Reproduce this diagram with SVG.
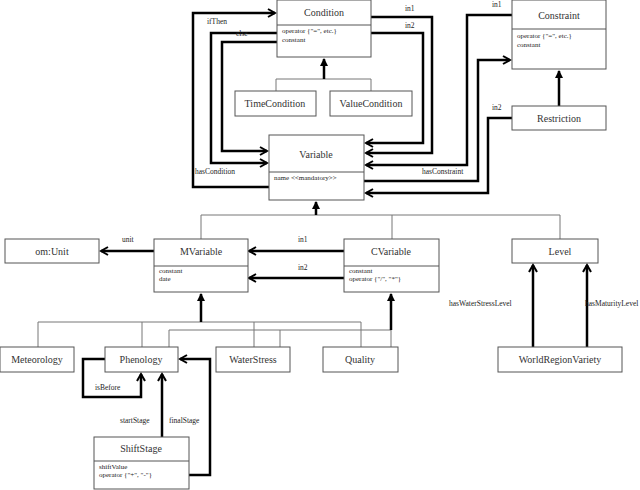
<svg xmlns="http://www.w3.org/2000/svg" width="640" height="490" viewBox="0 0 640 490">
<style>
.b{fill:#fff;stroke:#555;stroke-width:1}
.t{font-family:"Liberation Serif","Times New Roman",serif;font-size:10px;fill:#333;text-anchor:middle}
.a{font-family:"Liberation Serif","Times New Roman",serif;font-size:7px;fill:#222}
.l{font-family:"Liberation Serif","Times New Roman",serif;font-size:7.5px;fill:#222}
.as{fill:none;stroke:#000;stroke-width:2.5;marker-end:url(#v)}
.g{fill:none;stroke:#777;stroke-width:1}
.gi{fill:none;stroke:#000;stroke-width:2.5;marker-end:url(#tri)}
</style>
<defs>
<marker id="v" markerWidth="10" markerHeight="10" refX="8" refY="5" orient="auto" markerUnits="userSpaceOnUse"><path d="M1,1 L8,5 L1,9" fill="none" stroke="#000" stroke-width="2"/></marker>
<marker id="tri" markerWidth="10" markerHeight="10" refX="8" refY="5" orient="auto" markerUnits="userSpaceOnUse"><path d="M1,1 L9,5 L1,9 Z" fill="#000"/></marker>
</defs>
<g id="connectors">
<polyline class="as" points="269,187 193,187 193,13 275,13"/>
<polyline class="as" points="277,33 211,33 211,163 267,163"/>
<polyline class="as" points="277,42 222,42 222,151 267,151"/>
<polyline class="as" points="371,17 432,17 432,153 366,153"/>
<polyline class="as" points="371,33 423,33 423,143 366,143"/>
<polyline class="as" points="512,15 467,15 467,165 366,165"/>
<polyline class="as" points="364,181 478,181 478,60 510,60"/>
<polyline class="as" points="512,118 488,118 488,193 366,193"/>
<polyline class="g" points="276,91 276,79 371,79 371,91"/>
<line class="gi" x1="324" y1="79" x2="324" y2="59"/>
<line class="gi" x1="559" y1="106" x2="559" y2="71"/>
<polyline class="g" points="201,239 201,215 560,215 560,239"/>
<line class="g" x1="392" y1="215" x2="392" y2="239"/>
<line class="gi" x1="316" y1="215" x2="316" y2="202"/>
<polyline class="as" points="154,251 101,251"/>
<polyline class="as" points="344,251 249,251"/>
<polyline class="as" points="344,278 249,278"/>
<line class="as" x1="533" y1="347" x2="533" y2="265"/>
<line class="as" x1="587" y1="347" x2="587" y2="265"/>
<polyline class="g" points="38,347 38,322 361,322 361,347"/>
<line class="g" x1="142" y1="322" x2="142" y2="347"/>
<line class="g" x1="254" y1="322" x2="254" y2="347"/>
<line class="gi" x1="201" y1="322" x2="201" y2="294"/>
<polyline class="g" points="169,347 169,330 391,330 391,347"/>
<line class="g" x1="280" y1="330" x2="280" y2="347"/>
<line class="gi" x1="391" y1="330" x2="391" y2="294"/>
<polyline class="as" points="105,359 83,359 83,397 141,397 141,374"/>
<line class="as" x1="162" y1="437" x2="162" y2="374"/>
<polyline class="as" points="189,475 210,475 210,359 180,359"/>
</g>
<g class="l">
<text x="207" y="24">ifThen</text>
<text x="236" y="36">else</text>
<text x="195" y="174">hasCondition</text>
<text x="405" y="11">in1</text>
<text x="405" y="28">in2</text>
<text x="492" y="7">in1</text>
<text x="422" y="174">hasConstraint</text>
<text x="492" y="110">in2</text>
<text x="122" y="242">unit</text>
<text x="298" y="242">in1</text>
<text x="298" y="270">in2</text>
<text x="449" y="306">hasWaterStressLevel</text>
<text x="585" y="306">hasMaturityLevel</text>
<text x="95" y="390">isBefore</text>
<text x="120" y="423">startStage</text>
<text x="169" y="423">finalStage</text>
</g>
<g id="Condition"><rect class="b" x="277" y="0" width="94" height="57"/><line class="b" x1="277" y1="25" x2="371" y2="25"/><text class="t" x="324" y="16">Condition</text><text class="a" x="282" y="33">operator {"=", etc.}</text><text class="a" x="282" y="42">constant</text></g>
<g id="Constraint"><rect class="b" x="512" y="0" width="94" height="69"/><line class="b" x1="512" y1="29" x2="606" y2="29"/><text class="t" x="559" y="19">Constraint</text><text class="a" x="517" y="38">operator {"=", etc.}</text><text class="a" x="517" y="47">constant</text></g>
<g id="TimeCondition"><rect class="b" x="235" y="91" width="81" height="25"/><text class="t" x="275" y="107">TimeCondition</text></g>
<g id="ValueCondition"><rect class="b" x="330" y="91" width="82" height="25"/><text class="t" x="371" y="107">ValueCondition</text></g>
<g id="Restriction"><rect class="b" x="512" y="106" width="94" height="24"/><text class="t" x="559" y="122">Restriction</text></g>
<g id="Variable"><rect class="b" x="269" y="135" width="95" height="65"/><line class="b" x1="269" y1="172" x2="364" y2="172"/><text class="t" x="316" y="158">Variable</text><text class="a" x="274" y="180">name &lt;&lt;mandatory&gt;&gt;</text></g>
<g id="omUnit"><rect class="b" x="5" y="239" width="94" height="24"/><text class="t" x="52" y="255">om:Unit</text></g>
<g id="MVariable"><rect class="b" x="154" y="239" width="94" height="53"/><line class="b" x1="154" y1="266" x2="248" y2="266"/><text class="t" x="201" y="255">MVariable</text><text class="a" x="159" y="273">constant</text><text class="a" x="159" y="281">date</text></g>
<g id="CVariable"><rect class="b" x="344" y="239" width="95" height="53"/><line class="b" x1="344" y1="266" x2="439" y2="266"/><text class="t" x="391" y="255">CVariable</text><text class="a" x="349" y="273">constant</text><text class="a" x="349" y="281">operator {"/", "*"}</text></g>
<g id="Level"><rect class="b" x="512" y="239" width="86" height="24"/><text class="t" x="560" y="255">Level</text></g>
<g id="Meteorology"><rect class="b" x="0" y="347" width="74" height="25"/><text class="t" x="37" y="363">Meteorology</text></g>
<g id="Phenology"><rect class="b" x="105" y="347" width="73" height="25"/><text class="t" x="141" y="363">Phenology</text></g>
<g id="WaterStress"><rect class="b" x="216" y="347" width="74" height="25"/><text class="t" x="253" y="363">WaterStress</text></g>
<g id="Quality"><rect class="b" x="323" y="347" width="75" height="25"/><text class="t" x="360" y="363">Quality</text></g>
<g id="WorldRegionVariety"><rect class="b" x="498" y="347" width="124" height="25"/><text class="t" x="560" y="363">WorldRegionVariety</text></g>
<g id="ShiftStage"><rect class="b" x="94" y="437" width="95" height="52"/><line class="b" x1="94" y1="461" x2="189" y2="461"/><text class="t" x="141" y="452">ShiftStage</text><text class="a" x="99" y="469">shiftValue</text><text class="a" x="99" y="477">operator {"+", "-"}</text></g>
</svg>
